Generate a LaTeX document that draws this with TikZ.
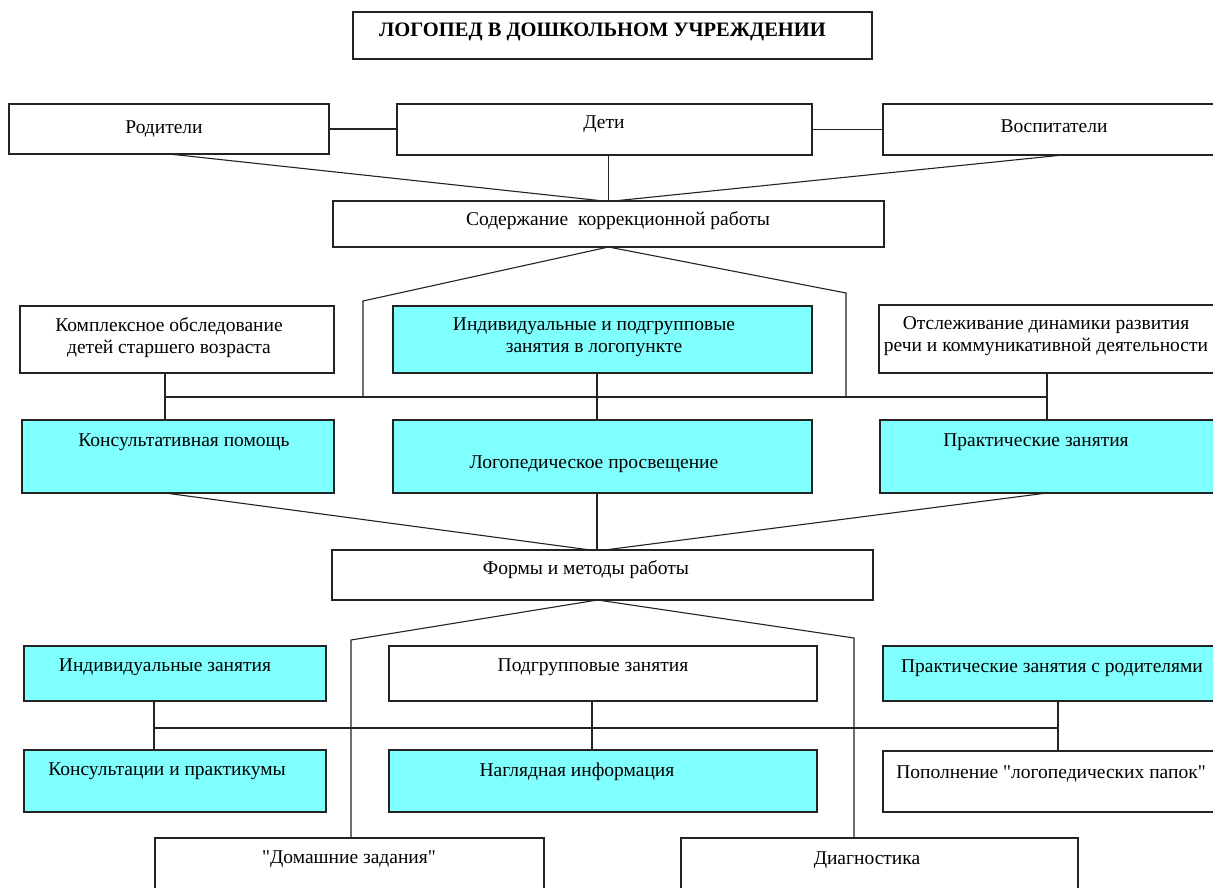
\documentclass[tikz,border=0pt]{standalone}
\usepackage{fontspec}
\setmainfont{Liberation Serif}[Ligatures=TeXOff]
\usetikzlibrary{calc}
\definecolor{cyanbox}{RGB}{128,255,255}
\definecolor{edgecol}{RGB}{35,35,35}
\newcommand\mkbox[6]{\node[#6, minimum width={(#4-#2)*1pt}, minimum height={(#5-#3)*1pt}] (#1) at (#2,#3) {};}
\begin{document}
\begin{tikzpicture}[x=1pt,y=-1pt,
  wbox/.style={draw=edgecol, line width=1.4pt, inner sep=0pt, outer sep=0pt, anchor=north west, fill=white},
  cbox/.style={wbox, fill=cyanbox},
  txt/.style={font=\fontsize{19.5}{22}\selectfont, inner sep=0pt, text=black, align=center},
  ttl/.style={font=\fontsize{20.5}{22}\selectfont\bfseries, inner sep=0pt, text=black},
  conn/.style={draw=edgecol, line width=1.1pt},
]
\useasboundingbox (0,0) rectangle (1213,888);
\fill[white] (0,0) rectangle (1213,888);

% boxes
\mkbox{title}{353}{12}{872}{59}{wbox}
\mkbox{rod}{9}{104}{329}{154}{wbox}
\mkbox{deti}{397}{104}{812}{155}{wbox}
\mkbox{vosp}{883}{104}{1243}{155}{wbox}
\mkbox{sod}{333}{201}{884}{247}{wbox}
\mkbox{kompl}{20}{306}{334}{373}{wbox}
\mkbox{ind}{393}{306}{812}{373}{cbox}
\mkbox{otsl}{879}{305}{1243}{373}{wbox}
\mkbox{kons}{22}{420}{334}{493}{cbox}
\mkbox{logo}{393}{420}{812}{493}{cbox}
\mkbox{prak}{880}{420}{1243}{493}{cbox}
\mkbox{forms}{332}{550}{873}{600}{wbox}
\mkbox{indz}{24}{646}{326}{701}{cbox}
\mkbox{podg}{389}{646}{817}{701}{wbox}
\mkbox{prr}{883}{646}{1243}{701}{cbox}
\mkbox{konsp}{24}{750}{326}{812}{cbox}
\mkbox{nagl}{389}{750}{817}{812}{cbox}
\mkbox{pop}{883}{751}{1243}{812}{wbox}
\mkbox{dom}{155}{838}{544}{900}{wbox}
\mkbox{diag}{681}{838}{1078}{900}{wbox}

% texts
\node[ttl, anchor=base west] (t-title) at (379,37) {ЛОГОПЕД В ДОШКОЛЬНОМ УЧРЕЖДЕНИИ};
\node[txt, anchor=base] (t-rod) at (164,134) {Родители};
\node[txt, anchor=base] (t-deti) at (604,129) {Дети};
\node[txt, anchor=base] (t-vosp) at (1054,133) {Воспитатели};
\node[txt, anchor=base] (t-sod) at (618,225) {Содержание\ \ коррекционной работы};
\node[txt] (t-kompl) at (169,338) {Комплексное обследование\\детей старшего возраста};
\node[txt] (t-ind) at (594,337) {Индивидуальные и подгрупповые\\занятия в логопункте};
\node[txt] (t-otsl) at (1046,336) {Отслеживание динамики развития\\речи и коммуникативной деятельности};
\node[txt, anchor=base] (t-kons) at (184,446) {Консультативная помощь};
\node[txt, anchor=base] (t-logo) at (594,468) {Логопедическое просвещение};
\node[txt, anchor=base] (t-prak) at (1036,446) {Практические занятия};
\node[txt, anchor=base] (t-forms) at (586,574) {Формы и методы работы};
\node[txt, anchor=base] (t-indz) at (165,671) {Индивидуальные занятия};
\node[txt, anchor=base] (t-podg) at (593,671) {Подгрупповые занятия};
\node[txt, anchor=base] (t-prr) at (1052,672) {Практические занятия с родителями};
\node[txt, anchor=base] (t-konsp) at (167,775) {Консультации и практикумы};
\node[txt, anchor=base] (t-nagl) at (577,776) {Наглядная информация};
\node[txt, anchor=base] (t-pop) at (1051,778) {Пополнение "логопедических папок"};
\node[txt, anchor=base] (t-dom) at (349,863) {"Домашние задания"};
\node[txt, anchor=base] (t-diag) at (867,864) {Диагностика};

% connectors, top
\draw[conn] (rod.east) -- (rod.east -| deti.west);
\draw[conn] (deti.east) -- (deti.east -| vosp.west);
\draw[conn] (rod.south) -- ([xshift=-5pt]sod.north);
\draw[conn] (vosp.south) -- ([xshift=5pt]sod.north);
\draw[conn] (deti.south -| sod.north) -- (sod.north);

% first Y and bus
\coordinate (yl) at (363,301);
\coordinate (yr) at (846,293);
\coordinate (b1l) at (165,397);
\coordinate (b1m) at (597,397);
\coordinate (b1r) at (1047,397);
\draw[conn] (sod.south) -- (yl) -- (yl |- b1l);
\draw[conn] (sod.south) -- (yr) -- (yr |- b1l);
\draw[conn] (b1l) -- (b1r);
\draw[conn] (kompl.south -| b1l) -- (kons.north -| b1l);
\draw[conn] (ind.south -| b1m) -- (logo.north -| b1m);
\draw[conn] (otsl.south -| b1r) -- (prak.north -| b1r);

% to forms
\draw[conn] (kons.south -| b1l) -- ([xshift=-12pt]forms.north);
\draw[conn] (prak.south -| b1r) -- ([xshift=2pt]forms.north);
\draw[conn] (logo.south -| b1m) -- (forms.north -| b1m);

% second Y and bus
\coordinate (zl) at (351,640);
\coordinate (zr) at (854,638);
\coordinate (b2l) at (154,728);
\coordinate (b2m) at (592,728);
\coordinate (b2r) at (1058,728);
\draw[conn] ([xshift=-5pt]forms.south) -- (zl) -- (zl |- dom.north);
\draw[conn] ([xshift=-5pt]forms.south) -- (zr) -- (zr |- diag.north);
\draw[conn] (b2l) -- (b2r);
\draw[conn] (indz.south -| b2l) -- (konsp.north -| b2l);
\draw[conn] (podg.south -| b2m) -- (nagl.north -| b2m);
\draw[conn] (prr.south -| b2r) -- (pop.north -| b2r);
\end{tikzpicture}
\end{document}
